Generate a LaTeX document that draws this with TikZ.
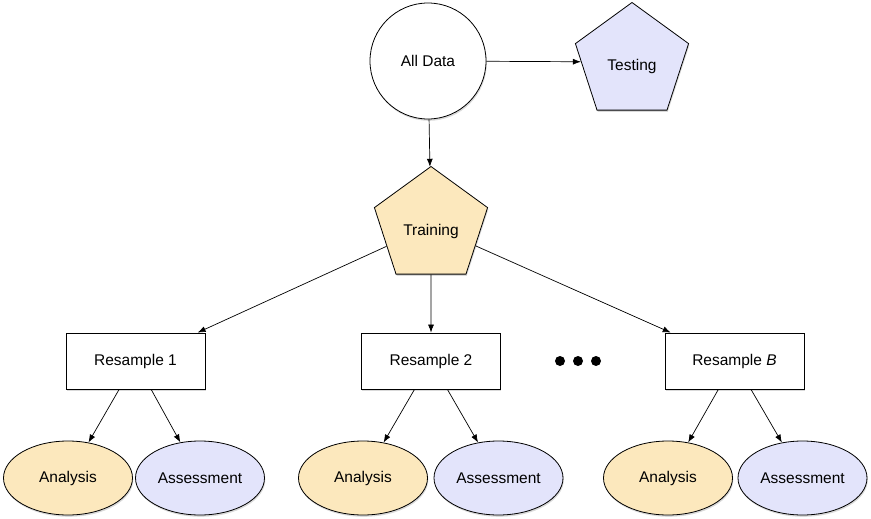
\documentclass[tikz,border=0pt]{standalone}
\usepackage{fontspec}
\setmainfont{Liberation Sans}
\usepackage{tikz}
\usetikzlibrary{shapes.geometric}
\usetikzlibrary{shadows}
\usetikzlibrary{arrows.meta}
\definecolor{trainfill}{HTML}{FCE8BD}
\definecolor{testfill}{HTML}{E3E4FB}

\begin{document}
\begin{tikzpicture}
    [
    x=1pt, y=-1pt,
    font=\fontsize{15.5}{18}\selectfont,
    outline/.style={draw, line width=0.8pt, inner sep=0pt,
      drop shadow={shadow xshift=0.8pt, shadow yshift=-1.8pt, opacity=0.3}},
    data/.style={outline, circle, fill=white, minimum size=116},
    split/.style={outline, regular polygon, regular polygon sides=5, minimum size=119,
      text height=20pt, text depth=2pt},
    resample/.style={outline, rectangle, fill=white, minimum width=139, minimum height=56},
    part/.style={outline, ellipse, minimum width=129, minimum height=74},
    train/.style={fill=trainfill},
    test/.style={fill=testfill},
    dot/.style={circle, fill=black, inner sep=0pt, minimum size=10},
    link/.style={-{Latex[length=8pt,width=6pt]}, line width=0.7pt},
    ]
    \useasboundingbox (0,0) rectangle (871,519);

    \node (all) at (428,61) [data] {All Data};
    \node (test) at (632,62) [split, test] {Testing};
    \node (train) at (431,226) [split, train] {Training};
    \draw [link] (all) to (test);
    \draw [link] (all) to (train);

    \node (r1) at (135.5,361) [resample] {Resample 1};
    \node (r2) at (431,361) [resample] {Resample 2};
    \node (rb) at (734.5,361) [resample] {Resample \textit{B}};
    \draw [link] (train) to (r1);
    \draw [link] (train) to (r2);
    \draw [link] (train) to (rb);

    \node (d1) at (560,361) [dot] {};
    \node (d2) at (578,361) [dot] {};
    \node (d3) at (596,361) [dot] {};

    \node (a1) at (68,478) [part, train] {Analysis};
    \node (s1) at (200,478) [part, test] {Assessment};
    \node (a2) at (363,478) [part, train] {Analysis};
    \node (s2) at (498.5,478) [part, test] {Assessment};
    \node (ab) at (668,478) [part, train] {Analysis};
    \node (sb) at (802.5,478) [part, test] {Assessment};
    \draw [link] (r1) to (a1);
    \draw [link] (r1) to (s1);
    \draw [link] (r2) to (a2);
    \draw [link] (r2) to (s2);
    \draw [link] (rb) to (ab);
    \draw [link] (rb) to (sb);
  \end{tikzpicture}
\end{document}
